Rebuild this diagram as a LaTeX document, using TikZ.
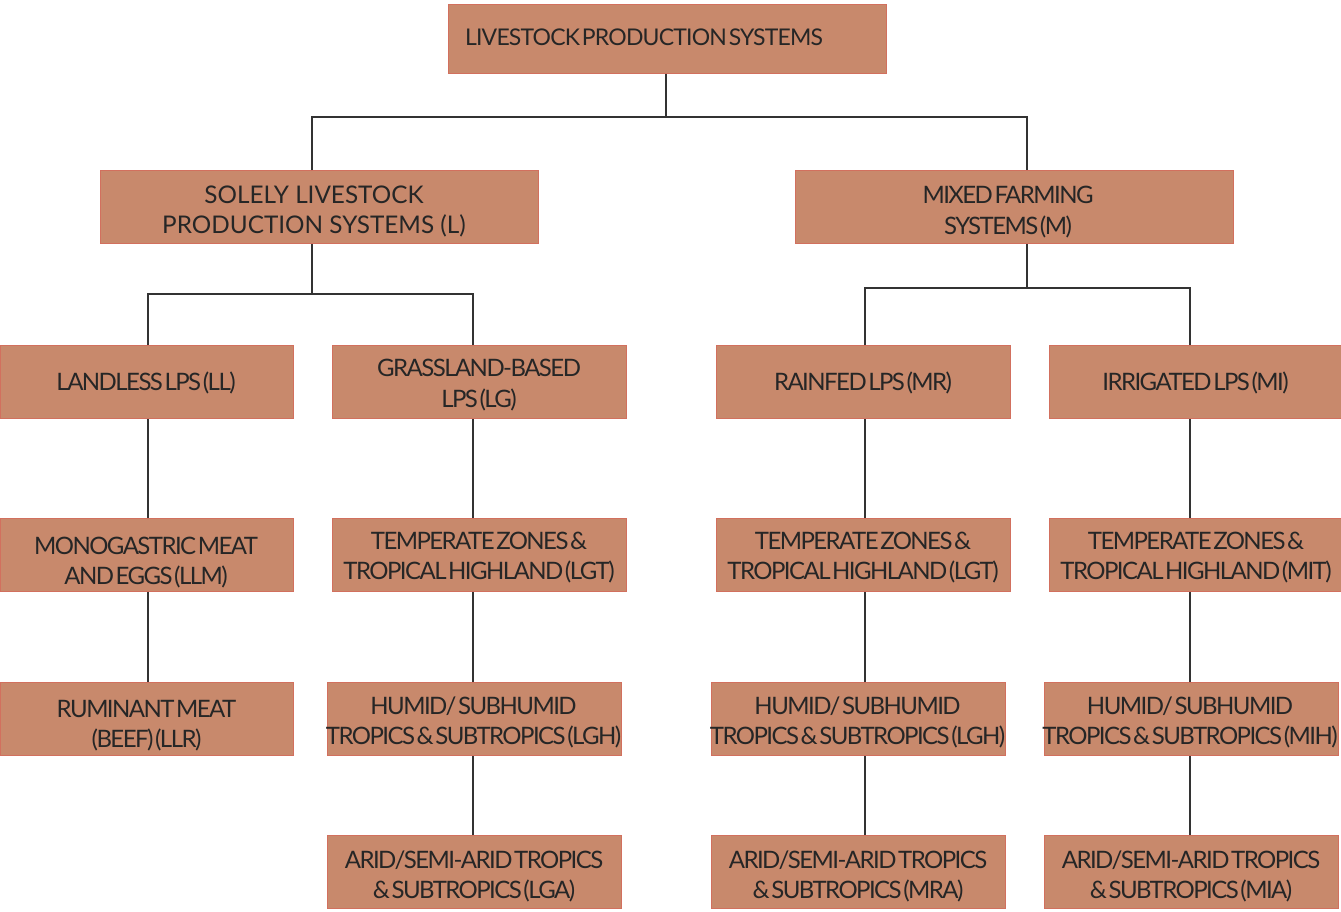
\documentclass[tikz,border=0pt]{standalone}
\usepackage{fontspec}
\setmainfont{Lato}
\newfontfamily\tightfont[LetterSpace=-6.5,WordSpace=0.35]{Lato}
\newfontfamily\titlefont[LetterSpace=-3.5,WordSpace=0.35]{Lato}
\definecolor{boxfill}{HTML}{C8896C}
\definecolor{boxedge}{HTML}{D2705E}
\definecolor{ink}{HTML}{262626}
\definecolor{wire}{HTML}{333333}
\tikzset{
  box/.style={draw=boxedge, line width=1pt, fill=boxfill, minimum width=#1,
    minimum height=73pt, inner sep=0pt},
  box/.default=294pt,
  % text is placed by the baseline of its last line
  txt/.style={inner sep=0pt, align=center, text=ink, anchor=base,
    font=\tightfont\fontsize{24}{30}\selectfont},
  link/.style={draw=wire, line width=1.1pt}
}
\begin{document}
\begin{tikzpicture}[x=1pt, y=-1pt]
\useasboundingbox (0,0) rectangle (1341,911);

% root
\node[box=438pt, minimum height=69pt] (root) at (667,38.5) {};
\node[txt, font=\titlefont\fontsize{23}{29}\selectfont] (rootT) at (644,45) {LIVESTOCK PRODUCTION SYSTEMS};

% second level
\node[box=438pt] (sol) at (319,207) {};
\node[txt, font=\fontsize{24.3}{30}\selectfont] (solT) at (314,233)
  {SOLELY LIVESTOCK\\PRODUCTION SYSTEMS (L)};
\node[box=438pt] (mix) at (1014,207) {};
\node[txt, font=\tightfont\fontsize{24}{31}\selectfont] (mixT) at (1008,234) {MIXED FARMING\\SYSTEMS (M)};

% third level
\node[box=293pt] (ll) at (146.5,382) {};
\node[txt] (llT) at (146,390) {LANDLESS LPS (LL)};
\node[box] (lg) at (479,382) {};
\node[txt, font=\tightfont\fontsize{24}{31}\selectfont] (lgT) at (479,407) {GRASSLAND-BASED\\LPS (LG)};
\node[box] (mr) at (863,382) {};
\node[txt] (mrT) at (863,390) {RAINFED LPS (MR)};
\node[box=292pt] (mi) at (1195,382) {};
\node[txt] (miT) at (1195.5,390) {IRRIGATED LPS (MI)};

% fourth level
\node[box=293pt] (llm) at (146.5,555) {};
\node[txt] (llmT) at (146,584) {MONOGASTRIC MEAT\\AND EGGS (LLM)};
\node[box] (lgt) at (479,555) {};
\node[txt] (lgtT) at (479,579) {TEMPERATE ZONES \&\\TROPICAL HIGHLAND (LGT)};
\node[box] (mrt) at (863,555) {};
\node[txt] (mrtT) at (863,579) {TEMPERATE ZONES \&\\TROPICAL HIGHLAND (LGT)};
\node[box=292pt] (mit) at (1195,555) {};
\node[txt] (mitT) at (1196,579) {TEMPERATE ZONES \&\\TROPICAL HIGHLAND (MIT)};

% fifth level
\node[box=293pt] (llr) at (146.5,719) {};
\node[txt] (llrT) at (146.5,747) {RUMINANT MEAT\\(BEEF) (LLR)};
\node[box] (lgh) at (474,719) {};
\node[txt] (lghT) at (473.5,744) {HUMID/ SUBHUMID\\TROPICS \& SUBTROPICS (LGH)};
\node[box] (mrh) at (858,719) {};
\node[txt] (mrhT) at (857.5,744) {HUMID/ SUBHUMID\\TROPICS \& SUBTROPICS (LGH)};
\node[box] (mih) at (1191,719) {};
\node[txt] (mihT) at (1190,744) {HUMID/ SUBHUMID\\TROPICS \& SUBTROPICS (MIH)};

% sixth level
\node[box] (lga) at (474,872) {};
\node[txt] (lgaT) at (474,898) {ARID/SEMI-ARID TROPICS\\\& SUBTROPICS (LGA)};
\node[box] (mra) at (858,872) {};
\node[txt] (mraT) at (858,898) {ARID/SEMI-ARID TROPICS\\\& SUBTROPICS (MRA)};
\node[box] (mia) at (1191,872) {};
\node[txt] (miaT) at (1191,898) {ARID/SEMI-ARID TROPICS\\\& SUBTROPICS (MIA)};

% branch points
\coordinate (j0) at (666,117);
\coordinate (j1) at (312,294);
\coordinate (j2) at (1027,288);

% root to second level
\draw[link] (root.south -| j0) -- (j0);
\draw[link] (sol.north -| 312,0) -- (312,117) -- (1027,117) -- (mix.north -| 1027,0);

% solely livestock branch
\draw[link] (sol.south -| j1) -- (j1);
\draw[link] (ll.north -| 148,0) -- (148,294) -- (473,294) -- (lg.north -| 473,0);

% mixed farming branch
\draw[link] (mix.south -| j2) -- (j2);
\draw[link] (mr.north -| 865,0) -- (865,288) -- (1190,288) -- (mi.north -| 1190,0);

% columns
\draw[link] (ll.south -| 148,0) -- (llm.north -| 148,0);
\draw[link] (llm.south -| 148,0) -- (llr.north -| 148,0);
\draw[link] (lg.south -| 473,0) -- (lgt.north -| 473,0);
\draw[link] (lgt.south -| 473,0) -- (lgh.north -| 473,0);
\draw[link] (lgh.south -| 473,0) -- (lga.north -| 473,0);
\draw[link] (mr.south -| 865,0) -- (mrt.north -| 865,0);
\draw[link] (mrt.south -| 865,0) -- (mrh.north -| 865,0);
\draw[link] (mrh.south -| 865,0) -- (mra.north -| 865,0);
\draw[link] (mi.south -| 1190,0) -- (mit.north -| 1190,0);
\draw[link] (mit.south -| 1190,0) -- (mih.north -| 1190,0);
\draw[link] (mih.south -| 1190,0) -- (mia.north -| 1190,0);
\end{tikzpicture}
\end{document}
